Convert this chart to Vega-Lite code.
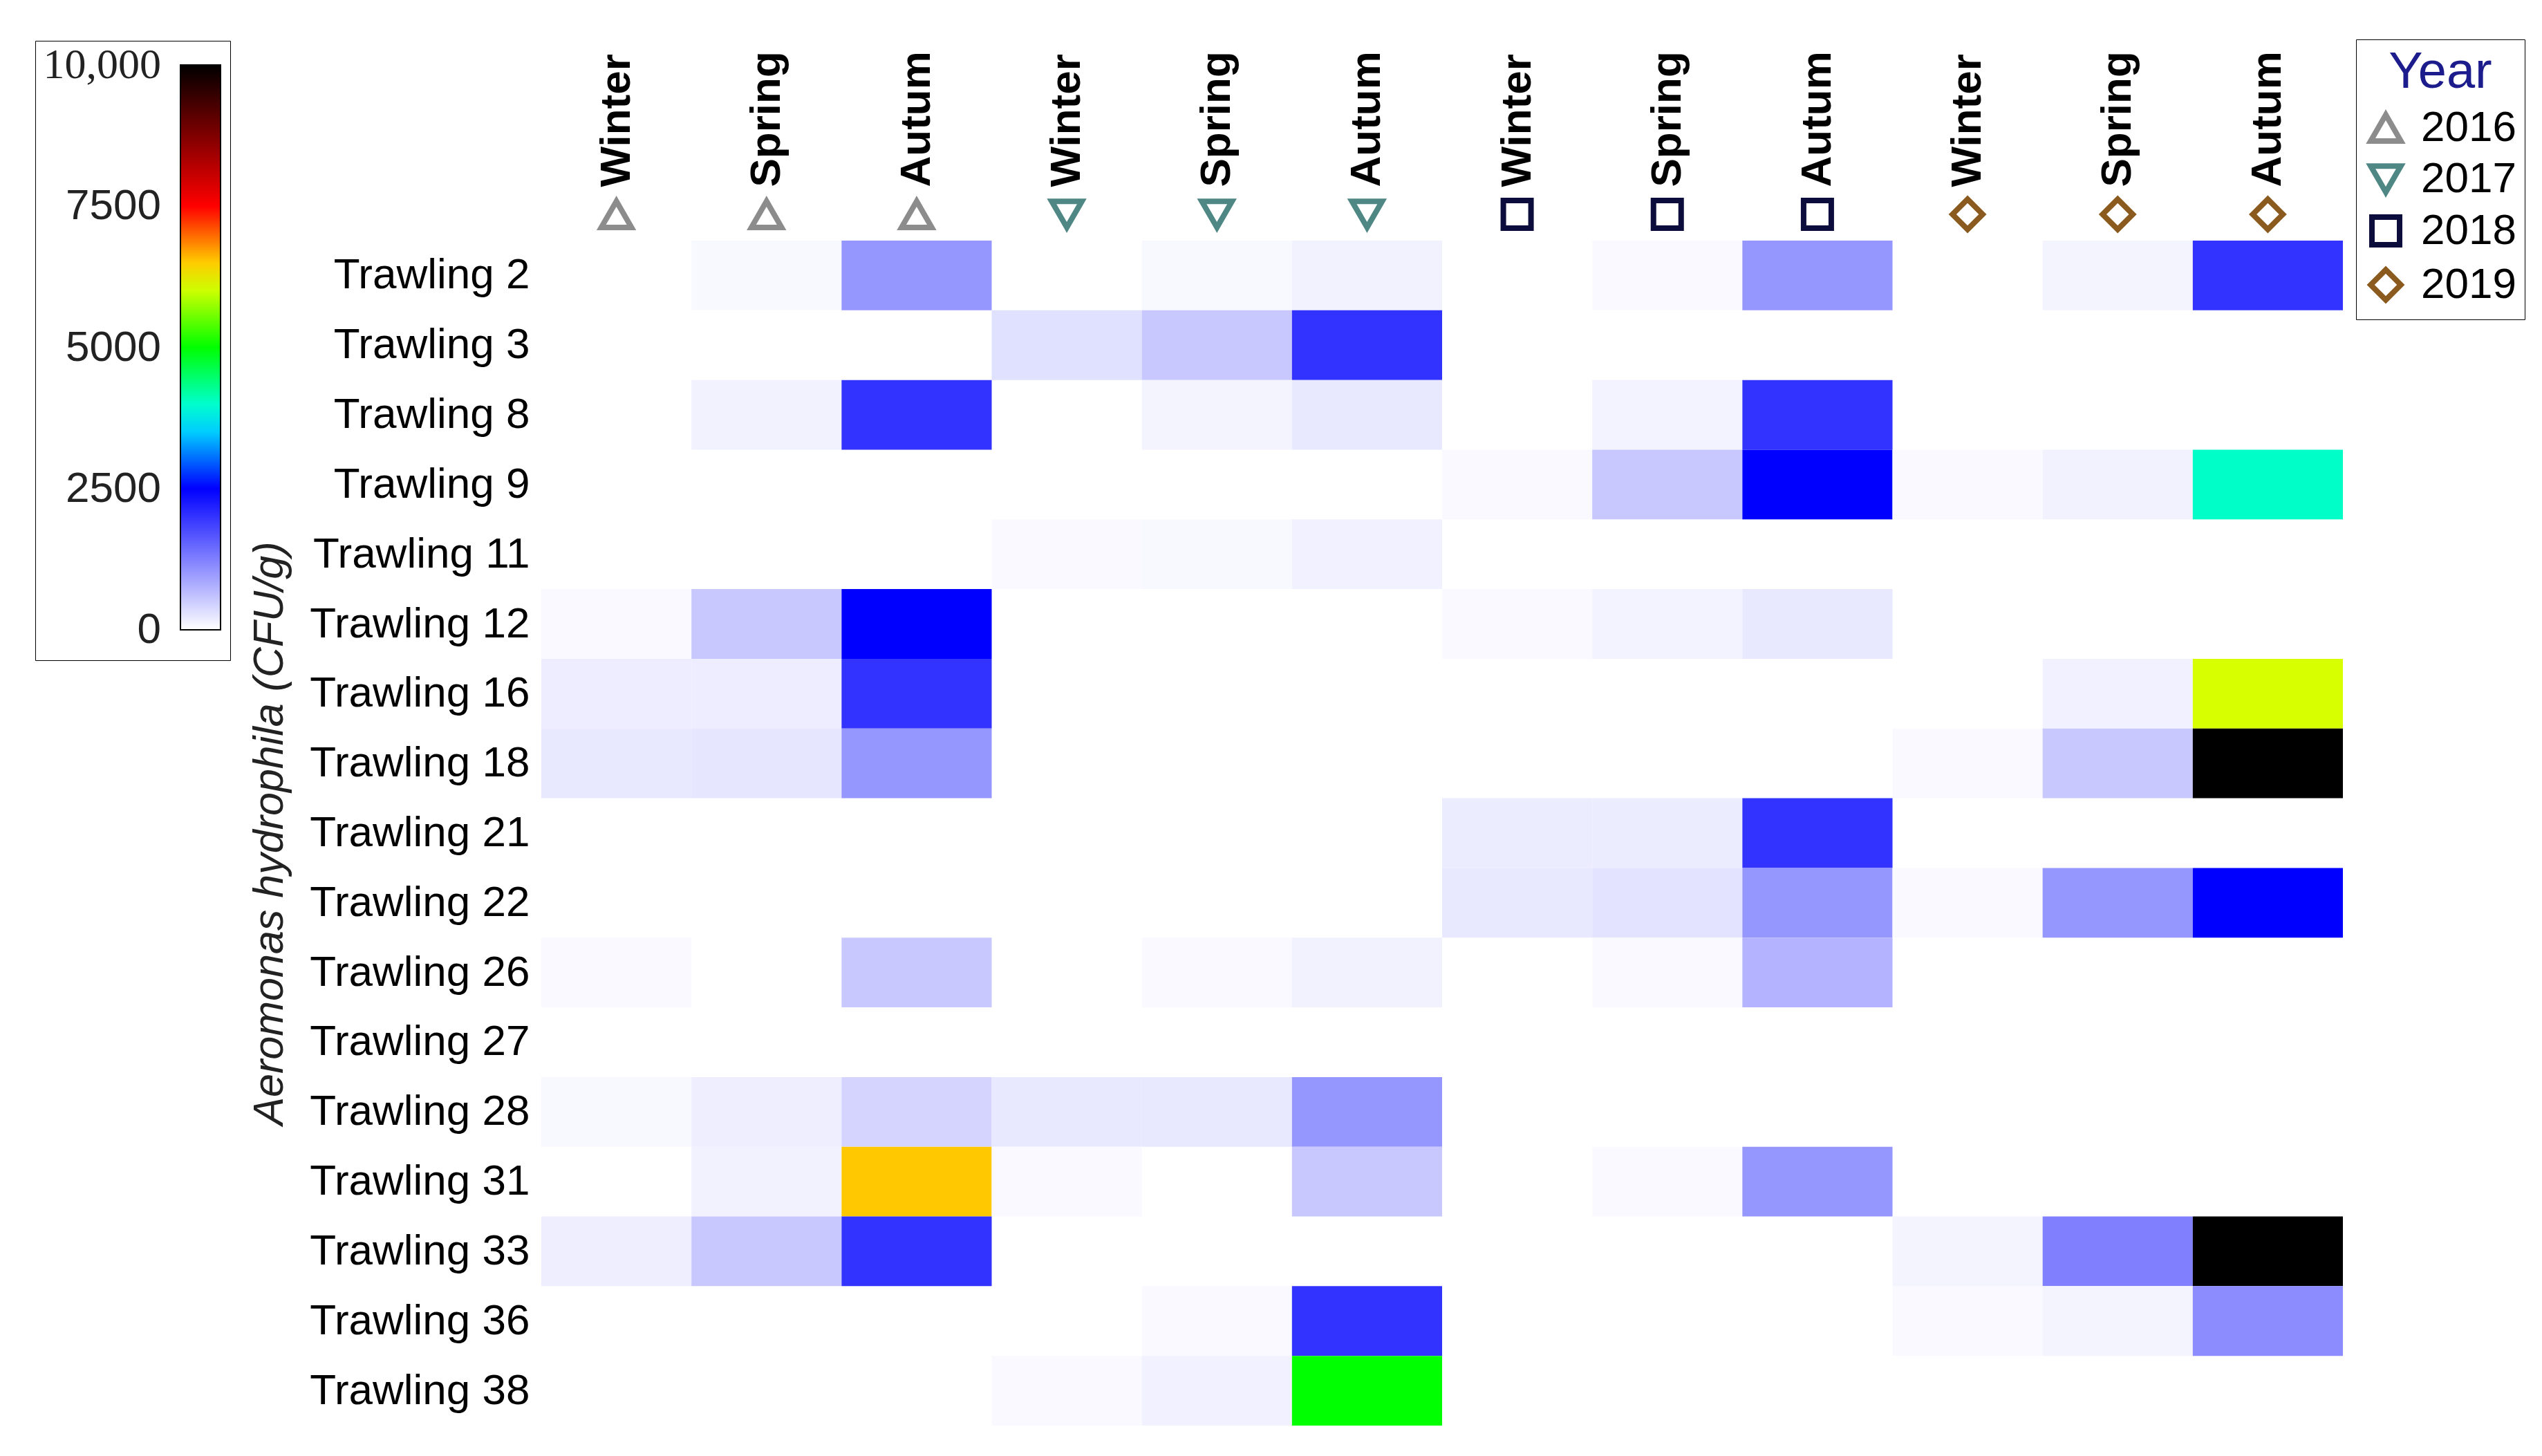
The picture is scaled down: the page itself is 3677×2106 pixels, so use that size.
{
  "$schema": "https://vega.github.io/schema/vega-lite/v6.json",
  "background": "white",
  "padding": {"left": 50, "top": 56, "right": 0, "bottom": 0},
  "spacing": 0,
  "datasets": {
    "columns": [
      {"c": "2016 Winter", "year": "2016"}, {"c": "2016 Spring", "year": "2016"}, {"c": "2016 Autum", "year": "2016"},
      {"c": "2017 Winter", "year": "2017"}, {"c": "2017 Spring", "year": "2017"}, {"c": "2017 Autum", "year": "2017"},
      {"c": "2018 Winter", "year": "2018"}, {"c": "2018 Spring", "year": "2018"}, {"c": "2018 Autum", "year": "2018"},
      {"c": "2019 Winter", "year": "2019"}, {"c": "2019 Spring", "year": "2019"}, {"c": "2019 Autum", "year": "2019"}
    ],
    "cells": [
      {"t": "Trawling 2", "c": "2016 Spring", "v": 70}, {"t": "Trawling 2", "c": "2016 Autum", "v": 1030},
      {"t": "Trawling 2", "c": "2017 Spring", "v": 70}, {"t": "Trawling 2", "c": "2017 Autum", "v": 130},
      {"t": "Trawling 2", "c": "2018 Spring", "v": 60}, {"t": "Trawling 2", "c": "2018 Autum", "v": 1030},
      {"t": "Trawling 2", "c": "2019 Spring", "v": 110}, {"t": "Trawling 2", "c": "2019 Autum", "v": 2000},
      {"t": "Trawling 3", "c": "2017 Winter", "v": 300}, {"t": "Trawling 3", "c": "2017 Spring", "v": 540},
      {"t": "Trawling 3", "c": "2017 Autum", "v": 2000},
      {"t": "Trawling 8", "c": "2016 Spring", "v": 130}, {"t": "Trawling 8", "c": "2016 Autum", "v": 2000},
      {"t": "Trawling 8", "c": "2017 Spring", "v": 110}, {"t": "Trawling 8", "c": "2017 Autum", "v": 230},
      {"t": "Trawling 8", "c": "2018 Spring", "v": 120}, {"t": "Trawling 8", "c": "2018 Autum", "v": 2000},
      {"t": "Trawling 9", "c": "2018 Winter", "v": 60}, {"t": "Trawling 9", "c": "2018 Spring", "v": 540},
      {"t": "Trawling 9", "c": "2018 Autum", "v": 2500}, {"t": "Trawling 9", "c": "2019 Winter", "v": 60},
      {"t": "Trawling 9", "c": "2019 Spring", "v": 130}, {"t": "Trawling 9", "c": "2019 Autum", "v": 4020},
      {"t": "Trawling 11", "c": "2017 Winter", "v": 60}, {"t": "Trawling 11", "c": "2017 Spring", "v": 70},
      {"t": "Trawling 11", "c": "2017 Autum", "v": 140},
      {"t": "Trawling 12", "c": "2016 Winter", "v": 60}, {"t": "Trawling 12", "c": "2016 Spring", "v": 540},
      {"t": "Trawling 12", "c": "2016 Autum", "v": 2500}, {"t": "Trawling 12", "c": "2018 Winter", "v": 60},
      {"t": "Trawling 12", "c": "2018 Spring", "v": 120}, {"t": "Trawling 12", "c": "2018 Autum", "v": 230},
      {"t": "Trawling 16", "c": "2016 Winter", "v": 180}, {"t": "Trawling 16", "c": "2016 Spring", "v": 180},
      {"t": "Trawling 16", "c": "2016 Autum", "v": 2000}, {"t": "Trawling 16", "c": "2019 Spring", "v": 140},
      {"t": "Trawling 16", "c": "2019 Autum", "v": 6060},
      {"t": "Trawling 18", "c": "2016 Winter", "v": 230}, {"t": "Trawling 18", "c": "2016 Spring", "v": 250},
      {"t": "Trawling 18", "c": "2016 Autum", "v": 1030}, {"t": "Trawling 18", "c": "2019 Winter", "v": 60},
      {"t": "Trawling 18", "c": "2019 Spring", "v": 540}, {"t": "Trawling 18", "c": "2019 Autum", "v": 10000},
      {"t": "Trawling 21", "c": "2018 Winter", "v": 190}, {"t": "Trawling 21", "c": "2018 Spring", "v": 190},
      {"t": "Trawling 21", "c": "2018 Autum", "v": 2000},
      {"t": "Trawling 22", "c": "2018 Winter", "v": 230}, {"t": "Trawling 22", "c": "2018 Spring", "v": 270},
      {"t": "Trawling 22", "c": "2018 Autum", "v": 1030}, {"t": "Trawling 22", "c": "2019 Winter", "v": 60},
      {"t": "Trawling 22", "c": "2019 Spring", "v": 1030}, {"t": "Trawling 22", "c": "2019 Autum", "v": 2500},
      {"t": "Trawling 26", "c": "2016 Winter", "v": 60}, {"t": "Trawling 26", "c": "2016 Autum", "v": 540},
      {"t": "Trawling 26", "c": "2017 Spring", "v": 60}, {"t": "Trawling 26", "c": "2017 Autum", "v": 130},
      {"t": "Trawling 26", "c": "2018 Spring", "v": 60}, {"t": "Trawling 26", "c": "2018 Autum", "v": 750},
      {"t": "Trawling 28", "c": "2016 Winter", "v": 70}, {"t": "Trawling 28", "c": "2016 Spring", "v": 170},
      {"t": "Trawling 28", "c": "2016 Autum", "v": 420}, {"t": "Trawling 28", "c": "2017 Winter", "v": 230},
      {"t": "Trawling 28", "c": "2017 Spring", "v": 230}, {"t": "Trawling 28", "c": "2017 Autum", "v": 1030},
      {"t": "Trawling 31", "c": "2016 Spring", "v": 130}, {"t": "Trawling 31", "c": "2016 Autum", "v": 6520},
      {"t": "Trawling 31", "c": "2017 Winter", "v": 60}, {"t": "Trawling 31", "c": "2017 Autum", "v": 540},
      {"t": "Trawling 31", "c": "2018 Spring", "v": 60}, {"t": "Trawling 31", "c": "2018 Autum", "v": 1030},
      {"t": "Trawling 33", "c": "2016 Winter", "v": 170}, {"t": "Trawling 33", "c": "2016 Spring", "v": 540},
      {"t": "Trawling 33", "c": "2016 Autum", "v": 2000}, {"t": "Trawling 33", "c": "2019 Winter", "v": 110},
      {"t": "Trawling 33", "c": "2019 Spring", "v": 1245}, {"t": "Trawling 33", "c": "2019 Autum", "v": 10000},
      {"t": "Trawling 36", "c": "2017 Spring", "v": 60}, {"t": "Trawling 36", "c": "2017 Autum", "v": 2000},
      {"t": "Trawling 36", "c": "2019 Winter", "v": 60}, {"t": "Trawling 36", "c": "2019 Spring", "v": 110},
      {"t": "Trawling 36", "c": "2019 Autum", "v": 1130},
      {"t": "Trawling 38", "c": "2017 Winter", "v": 60}, {"t": "Trawling 38", "c": "2017 Spring", "v": 140},
      {"t": "Trawling 38", "c": "2017 Autum", "v": 5000}
    ]
  },
  "vconcat": [
    {
      "data": {"name": "columns"},
      "width": 2606,
      "height": 76,
      "mark": {"type": "point", "filled": false, "strokeWidth": 8, "opacity": 1},
      "encoding": {
        "x": {
          "field": "c", "type": "nominal",
          "scale": {"type": "band", "paddingInner": 0, "paddingOuter": 0,
            "domain": ["2016 Winter", "2016 Spring", "2016 Autum", "2017 Winter", "2017 Spring", "2017 Autum", "2018 Winter", "2018 Spring", "2018 Autum", "2019 Winter", "2019 Spring", "2019 Autum"]},
          "axis": {"orient": "top", "title": null, "labelExpr": "split(datum.value, ' ')[1]", "labelAngle": -90,
            "labelFontSize": 62, "labelFontWeight": "bold", "labelFont": "Liberation Sans", "labelColor": "black", "labelLimit": 0,
            "ticks": false, "domain": false, "grid": false, "labelPadding": 2, "maxExtent": 400}
        },
        "shape": {
          "field": "year", "type": "nominal",
          "scale": {"domain": ["2016", "2017", "2018", "2019"], "range": ["triangle-up", "triangle-down", "square", "diamond"]},
          "legend": {"title": "Year", "orient": "none", "legendX": 2625, "legendY": -215,
            "titleFontSize": 74, "titleColor": "#1c1c8c", "titleFont": "Liberation Sans", "titleFontWeight": "normal", "titleAnchor": "middle",
            "labelFontSize": 62, "labelFont": "Liberation Sans", "labelColor": "black",
            "symbolStrokeWidth": 8,
            "strokeColor": "black", "fillColor": "white", "padding": 12, "rowPadding": 4, "labelOffset": 20, "titlePadding": 11}
        },
        "stroke": {
          "field": "year", "type": "nominal",
          "scale": {"domain": ["2016", "2017", "2018", "2019"], "range": ["#8c8c8c", "#4f8785", "#0d0d3d", "#8b5a1e"]},
          "legend": {"title": "Year", "orient": "none", "legendX": 2625, "legendY": -215,
            "titleFontSize": 74, "titleColor": "#1c1c8c", "titleFont": "Liberation Sans", "titleFontWeight": "normal", "titleAnchor": "middle",
            "labelFontSize": 62, "labelFont": "Liberation Sans", "labelColor": "black",
            "symbolStrokeWidth": 8,
            "strokeColor": "black", "fillColor": "white", "padding": 12, "rowPadding": 4, "labelOffset": 20, "titlePadding": 11}
        },
        "size": {
          "field": "year", "type": "nominal",
          "scale": {"type": "ordinal", "domain": ["2016", "2017", "2018", "2019"], "range": [1900, 1900, 1600, 1900]},
          "legend": {"title": "Year", "orient": "none", "legendX": 2625, "legendY": -215,
            "titleFontSize": 74, "titleColor": "#1c1c8c", "titleFont": "Liberation Sans", "titleFontWeight": "normal", "titleAnchor": "middle",
            "labelFontSize": 62, "labelFont": "Liberation Sans", "labelColor": "black",
            "symbolStrokeWidth": 8,
            "strokeColor": "black", "fillColor": "white", "padding": 12, "rowPadding": 4, "labelOffset": 20, "titlePadding": 11}
        }
      }
    },
    {
      "data": {"name": "cells"},
      "width": 2606,
      "height": 1714,
      "mark": {"type": "rect"},
      "encoding": {
        "x": {
          "field": "c", "type": "nominal",
          "scale": {"type": "band", "paddingInner": 0, "paddingOuter": 0,
            "domain": ["2016 Winter", "2016 Spring", "2016 Autum", "2017 Winter", "2017 Spring", "2017 Autum", "2018 Winter", "2018 Spring", "2018 Autum", "2019 Winter", "2019 Spring", "2019 Autum"]},
          "axis": null
        },
        "y": {
          "field": "t", "type": "nominal",
          "scale": {"type": "band", "paddingInner": 0, "paddingOuter": 0,
            "domain": ["Trawling 2", "Trawling 3", "Trawling 8", "Trawling 9", "Trawling 11", "Trawling 12", "Trawling 16", "Trawling 18", "Trawling 21", "Trawling 22", "Trawling 26", "Trawling 27", "Trawling 28", "Trawling 31", "Trawling 33", "Trawling 36", "Trawling 38"]},
          "axis": {"title": "Aeromonas hydrophila (CFU/g)", "titleFontStyle": "italic", "titleFontWeight": "normal",
            "titleFontSize": 61, "titleFont": "Liberation Sans", "titleColor": "#222222", "titlePadding": 26,
            "labelFontSize": 62, "labelFont": "Liberation Sans", "labelColor": "black", "labelLimit": 0,
            "ticks": false, "domain": false, "grid": false, "labelPadding": 17, "maxExtent": 600}
        },
        "color": {
          "field": "v", "type": "quantitative",
          "scale": {"domain": [0, 2500, 3750, 5000, 6250, 7500, 10000],
            "range": ["#ffffff", "#0000ff", "#00ffff", "#00ff00", "#ffff00", "#ff0000", "#000000"], "interpolate": "rgb"},
          "legend": {"orient": "none", "legendX": -732, "legendY": -213, "direction": "vertical", "title": null,
            "gradientLength": 817, "gradientThickness": 58, "gradientStrokeColor": "black", "gradientStrokeWidth": 2,
            "values": [0, 2500, 5000, 7500, 10000],
            "labelExpr": "datum.value == 10000 ? '10,000' : format(datum.value, 'd')",
            "labelOffset": 111, "labelFontSize": 62, "labelOverlap": false,
            "labelColor": "#222222", "strokeColor": "black", "fillColor": "white", "padding": 13,
            "encode": {
              "gradient": {"update": {"x": {"value": 197}, "y": {"value": 22}}},
              "labels": {"update": {
                "font": {"signal": "datum.value == 10000 ? 'Liberation Serif' : 'Liberation Sans'"},
                "align": {"value": "right"},
                "baseline": {"value": "middle"},
                "dy": {"value": 22}
              }}
            }}
        }
      }
    }
  ],
  "config": {"view": {"stroke": null}, "font": "Liberation Sans"}
}
